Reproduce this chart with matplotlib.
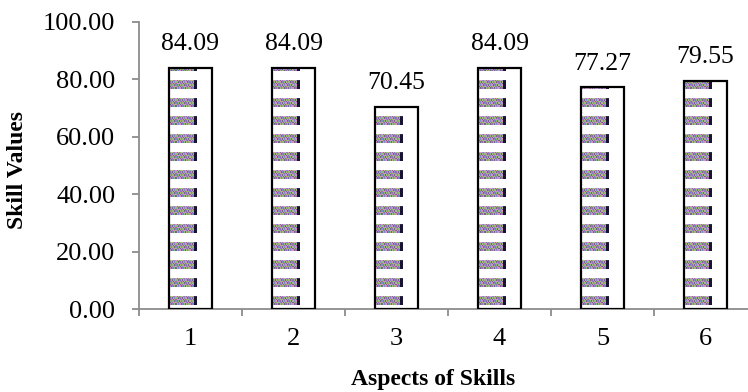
import matplotlib
matplotlib.use('Agg')
import matplotlib.pyplot as plt
from matplotlib import ticker
import numpy as np

plt.rcParams['font.family'] = ['Liberation Serif', 'DejaVu Serif']

aspects = ['1', '2', '3', '4', '5', '6']
skill_values = [84.09, 84.09, 70.45, 84.09, 77.27, 79.55]

fig = plt.figure(figsize=(7.48, 3.92), dpi=100)
ax = fig.add_axes([139 / 748, 1 - 309 / 392, 618 / 748, 287 / 392])

x = np.arange(len(aspects))
bar_w = 0.41
bars = ax.bar(x, skill_values, width=bar_w, facecolor='none', edgecolor='black',
              linewidth=1.6, zorder=4)

# speckled stripe texture, a fixed tile of colours repeated along the stripe
tile_colors = np.array([[0.62, 0.42, 0.70], [0.55, 0.75, 0.45],
                        [0.85, 0.55, 0.75], [0.45, 0.40, 0.55],
                        [0.70, 0.70, 0.55], [0.50, 0.55, 0.80]])
rows, cols = 6, 26
idx = (np.arange(rows)[:, None] * 5 + np.arange(cols)[None, :] * 7
       + (np.arange(cols)[None, :] // 3)) % len(tile_colors)
texture = tile_colors[idx]
texture[:, -3:] = [0.10, 0.08, 0.20]
texture[0, :] = texture[0, :] * 0.9 + 0.1

period = 6.27
s_lo, s_hi = 1.4, 4.2
for xi, v in zip(x, skill_values):
    left = xi - bar_w / 2
    right = left + bar_w * 0.65
    base = 0.0
    while base + s_lo < v:
        top = min(base + s_hi, v)
        ax.imshow(texture, extent=(left, right, base + s_lo, top),
                  aspect='auto', interpolation='nearest', zorder=3)
        base += period

for xi, v in zip(x, skill_values):
    ax.annotate('%.2f' % v, (xi, v), xytext=(0, 9), textcoords='offset points',
                ha='center', va='bottom', fontsize=18.5)

ax.set_xlim(-0.5, len(aspects) - 0.5)
ax.set_ylim(0, 100)
ax.set_xticks(np.arange(len(aspects) + 1) - 0.5)
ax.set_xticklabels([])
ax.xaxis.set_minor_locator(ticker.FixedLocator(x))
ax.xaxis.set_minor_formatter(ticker.FixedFormatter(aspects))
ax.set_yticks(np.arange(0, 101, 20))
ax.yaxis.set_major_formatter(ticker.FormatStrFormatter('%.2f'))

for side in ['top', 'right']:
    ax.spines[side].set_visible(False)
for side in ['left', 'bottom']:
    ax.spines[side].set_color('#8c8c8c')
    ax.spines[side].set_linewidth(1.3)

ax.tick_params(axis='y', direction='out', length=5, width=1.3, color='#8c8c8c',
               labelsize=19, pad=12)
ax.tick_params(axis='x', which='major', direction='out', length=5, width=1.3,
               color='#8c8c8c')
ax.tick_params(axis='x', which='minor', length=0, labelsize=19, pad=14)

fig.text(18 / 748, 1 - 170 / 392, 'Skill Values', rotation=90, ha='center',
         va='center', fontsize=17, fontweight='bold')
fig.text(433 / 748, 1 - 380 / 392, 'Aspects of Skills', ha='center',
         va='center', fontsize=17, fontweight='bold')

plt.savefig('out.png', dpi=100)
